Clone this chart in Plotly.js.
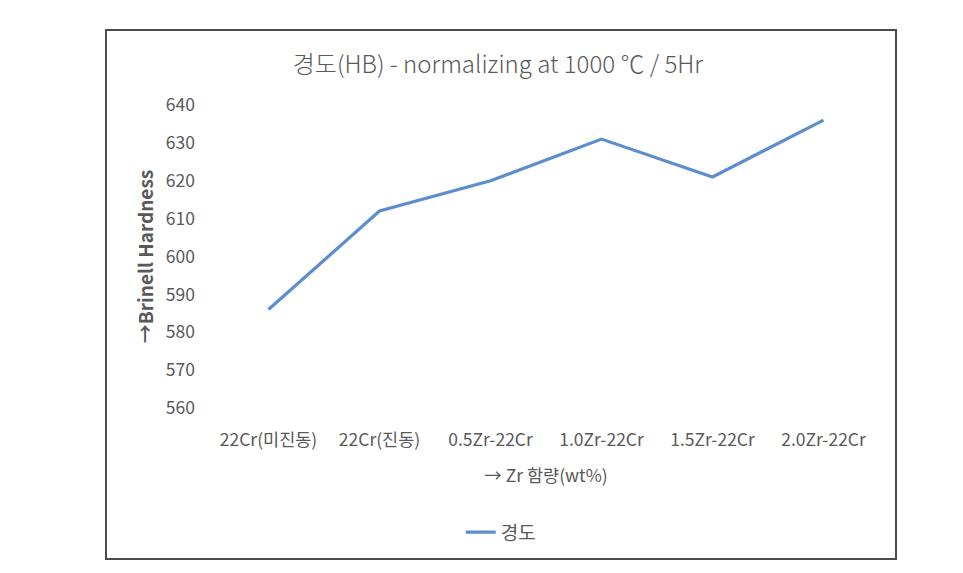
<!DOCTYPE html>
<html>
<head>
<meta charset="utf-8">
<script src="https://cdn.plot.ly/plotly-3.0.1.min.js"></script>
<style>
  html, body { margin: 0; padding: 0; background: #ffffff; }
  #wrap { position: relative; width: 963px; height: 573px; }
  #chart { width: 963px; height: 573px; }
  #frame { position: absolute; left: 105px; top: 29px; width: 788px; height: 527px;
           border: 2px solid #4a4d4f; pointer-events: none; }
</style>
</head>
<body>
<div id="wrap">
  <div id="chart"></div>
  <div id="frame"></div>
</div>
<script>
const categories = ['22Cr(미진동)', '22Cr(진동)', '0.5Zr-22Cr', '1.0Zr-22Cr', '1.5Zr-22Cr', '2.0Zr-22Cr'];
const hardness = [586, 612, 620, 631, 621, 636];
const seriesName = '경도';
const chartTitle = '경도(HB) - normalizing at 1000 ℃ / 5Hr';
const xTitle = '→ Zr 함량(wt%)';
const yTitle = '→Brinell Hardness';
const yTicks = [560, 570, 580, 590, 600, 610, 620, 630, 640];

const font = 'Noto Sans CJK KR, Noto Sans, sans-serif';
const grey = '#595959';

const trace = {
  type: 'scatter',
  mode: 'lines',
  x: categories,
  y: hardness,
  name: seriesName,
  line: { color: '#5b8dcf', width: 3.2 },
  showlegend: true
};

const layout = {
  width: 963,
  height: 573,
  margin: { l: 213, r: 84, t: 105, b: 165 },
  paper_bgcolor: '#ffffff',
  plot_bgcolor: '#ffffff',
  font: { family: font, color: grey, size: 17 },
  title: {
    text: chartTitle,
    font: { family: font, size: 24, color: grey, weight: 300 },
    x: 0.517, xref: 'container', xanchor: 'center',
    y: 0.887, yref: 'container', yanchor: 'middle'
  },
  xaxis: {
    type: 'category',
    range: [-0.5, 5.5],
    showgrid: false,
    zeroline: false,
    showline: false,
    ticks: '',
    ticklabelstandoff: 19,
    tickfont: { family: font, size: 17.5, color: grey },
    title: { text: xTitle, font: { family: font, size: 17.5, color: grey }, standoff: 20 },
    automargin: false
  },
  yaxis: {
    range: [560, 640],
    tickvals: yTicks,
    showgrid: false,
    zeroline: false,
    showline: false,
    ticks: '',
    ticklabelstandoff: 17,
    tickfont: { family: font, size: 17.5, color: grey },
    title: { text: '<b>' + yTitle + '</b>', font: { family: font, size: 19, color: grey }, standoff: 7 },
    automargin: false
  },
  showlegend: true,
  legend: {
    orientation: 'h',
    x: 0.432, xanchor: 'center',
    y: -0.41, yanchor: 'middle',
    font: { family: font, size: 19, color: grey },
    bgcolor: 'rgba(0,0,0,0)'
  }
};

Plotly.newPlot('chart', [trace], layout, { displayModeBar: false, staticPlot: true });
</script>
</body>
</html>
